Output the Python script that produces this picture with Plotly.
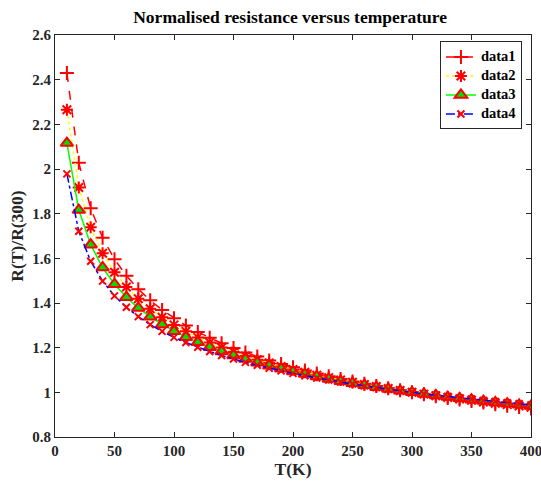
import plotly.graph_objects as go

T = [10, 20, 30, 40, 50, 60, 70, 80, 90, 100, 110, 120, 130, 140, 150, 160, 170, 180, 190, 200,
     210, 220, 230, 240, 250, 260, 270, 280, 290, 300, 310, 320, 330, 340, 350, 360, 370, 380, 390, 400]

data1 = [2.430, 2.028, 1.824, 1.692, 1.596, 1.522, 1.462, 1.412, 1.369, 1.332,
         1.299, 1.270, 1.244, 1.220, 1.198, 1.178, 1.160, 1.143, 1.127, 1.112,
         1.098, 1.084, 1.072, 1.060, 1.049, 1.038, 1.028, 1.018, 1.009, 1.000,
         0.991, 0.983, 0.975, 0.968, 0.961, 0.954, 0.947, 0.940, 0.934, 0.928]

data2 = [2.265, 1.917, 1.739, 1.623, 1.538, 1.472, 1.419, 1.374, 1.336, 1.302,
         1.273, 1.246, 1.223, 1.201, 1.181, 1.163, 1.146, 1.131, 1.116, 1.102,
         1.090, 1.077, 1.066, 1.055, 1.045, 1.035, 1.026, 1.017, 1.008, 1.000,
         0.992, 0.985, 0.977, 0.970, 0.964, 0.957, 0.951, 0.945, 0.939, 0.933]

data3 = [2.116, 1.816, 1.661, 1.559, 1.484, 1.426, 1.378, 1.338, 1.304, 1.274,
         1.247, 1.224, 1.202, 1.183, 1.165, 1.149, 1.133, 1.119, 1.106, 1.093,
         1.082, 1.071, 1.060, 1.050, 1.041, 1.032, 1.023, 1.015, 1.007, 1.000,
         0.993, 0.986, 0.979, 0.973, 0.967, 0.961, 0.955, 0.949, 0.944, 0.939]

data4 = [1.978, 1.721, 1.587, 1.498, 1.432, 1.381, 1.339, 1.303, 1.273, 1.246,
         1.223, 1.202, 1.183, 1.165, 1.149, 1.134, 1.121, 1.108, 1.096, 1.085,
         1.074, 1.064, 1.055, 1.046, 1.037, 1.029, 1.021, 1.014, 1.007, 1.000,
         0.993, 0.987, 0.981, 0.975, 0.970, 0.964, 0.959, 0.954, 0.949, 0.944]

series_names = ["data1", "data2", "data3", "data4"]

x_ticks = [0, 50, 100, 150, 200, 250, 300, 350, 400]
y_ticks = [0.8, 1.0, 1.2, 1.4, 1.6, 1.8, 2.0, 2.2, 2.4, 2.6]
y_tick_labels = ["0.8", "1", "1.2", "1.4", "1.6", "1.8", "2", "2.2", "2.4", "2.6"]

FONT = "Liberation Serif"


def legend_name(s):
    return ("<span style=\"font-size:14.5px;font-family:'Liberation Serif'\"><b>%s</b></span>" % s)


fig = go.Figure()
fig.add_trace(go.Scatter(
    x=T, y=data1, name=legend_name(series_names[0]), mode="lines+markers",
    line=dict(color="#ff0000", width=1.5, dash="dash"),
    marker=dict(symbol="cross-thin-open", size=10, color="#ff0000",
                line=dict(color="#ff0000", width=2)),
))
fig.add_trace(go.Scatter(
    x=T, y=data2, name=legend_name(series_names[1]), mode="lines+markers",
    line=dict(color="#ffff00", width=1.5, dash="dot"),
    marker=dict(symbol="asterisk-open", size=10, color="#ff0000",
                line=dict(color="#ff0000", width=2)),
))
fig.add_trace(go.Scatter(
    x=T, y=data3, name=legend_name(series_names[2]), mode="lines+markers",
    line=dict(color="#00ff00", width=1.5),
    marker=dict(symbol="triangle-up", size=11, color="#00dd00",
                line=dict(color="#ff0000", width=2)),
))
fig.add_trace(go.Scatter(
    x=T, y=data4, name=legend_name(series_names[3]), mode="lines+markers",
    line=dict(color="#0000ff", width=1.5, dash="dashdot"),
    marker=dict(symbol="x-thin-open", size=7, color="#ff0000",
                line=dict(color="#ff0000", width=2)),
))

axis_common = dict(
    showgrid=False, zeroline=False, showline=True, linecolor="#262626", linewidth=1,
    mirror="ticks", ticks="inside", ticklen=5, tickcolor="#262626", automargin=False,
    ticklabeloverflow="allow",
    tickfont=dict(family=FONT, size=15, color="#262626"),
)

fig.update_layout(
    width=541, height=482,
    margin=dict(l=55, r=10, t=35, b=45),
    paper_bgcolor="white", plot_bgcolor="white",
    font=dict(family=FONT, color="#262626"),
    title=dict(text="<b>Normalised resistance versus temperature</b>",
               x=0.494, xanchor="center", xref="paper", y=0.978, yanchor="top",
               font=dict(family=FONT, size=17.5, color="black")),
    xaxis=dict(range=[0, 400], tickvals=x_ticks,
               ticktext=["<b>%d</b>" % v for v in x_ticks],
               title=dict(text="<b>T(K)</b>", standoff=2,
                          font=dict(family=FONT, size=17.5, color="#262626")),
               **axis_common),
    yaxis=dict(range=[0.8, 2.6], tickvals=y_ticks,
               ticktext=["<b>%s</b>" % s for s in y_tick_labels],
               title=dict(text="<b>R(T)/R(300)</b>", standoff=4,
                          font=dict(family=FONT, size=17.5, color="#262626")),
               **axis_common),
    legend=dict(x=0.981, y=0.984, xanchor="right", yanchor="top",
                bgcolor="white", bordercolor="#262626", borderwidth=1,
                font=dict(family=FONT, size=11, color="black"),
                itemwidth=30, tracegroupgap=0),
    showlegend=True,
)

fig.write_html("out.html", config={"displayModeBar": False},
               post_script="document.body.style.margin='0';document.body.style.overflow='hidden';")
